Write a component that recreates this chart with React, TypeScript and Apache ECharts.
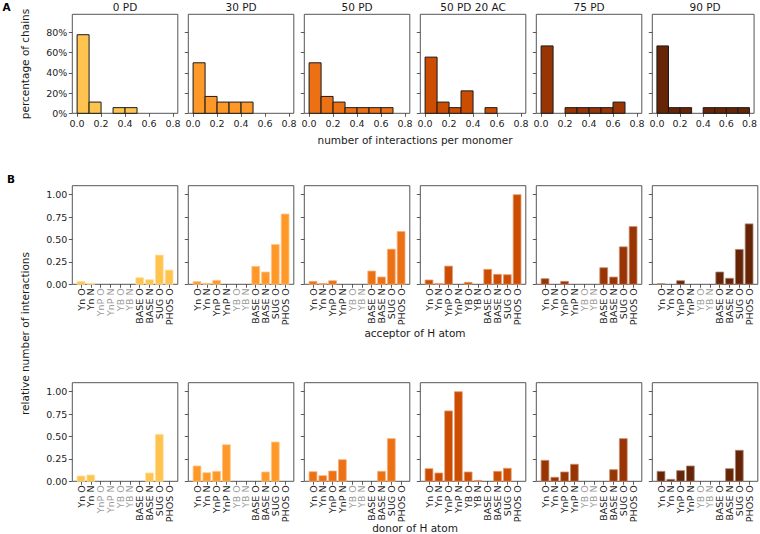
import React, { useEffect, useRef } from "react";
import * as echarts from "echarts";

// ---------- DATA ----------
const panelTitles = ["0 PD", "30 PD", "50 PD", "50 PD 20 AC", "75 PD", "90 PD"];
const panelColors = ["#fec44f", "#fe9929", "#ec7014", "#cc4c02", "#993404", "#662506"];

// histogram (A): bin edges and percentage of chains per bin
const binEdges = [0, 0.1, 0.2, 0.3, 0.4, 0.5, 0.6, 0.7, 0.8];
const pct0PD = [77.8, 11.1, 0, 5.6, 5.6, 0, 0, 0];
const pct30PD = [50.0, 16.7, 11.1, 11.1, 11.1, 0, 0, 0];
const pct50PD = [50.0, 16.7, 11.1, 5.6, 5.6, 5.6, 5.6, 0];
const pct50PD20AC = [55.6, 11.1, 5.6, 22.2, 0, 5.6, 0, 0];
const pct75PD = [66.7, 0, 5.6, 5.6, 5.6, 5.6, 11.1, 0];
const pct90PD = [66.7, 5.6, 5.6, 0, 5.6, 5.6, 5.6, 5.6];
const histTicks = [0, 0.2, 0.4, 0.6, 0.8];
const pctTicks = [0, 20, 40, 60, 80];

// B: atom categories
const atomCats = ["Yn O", "Yn N", "YnP O", "YnP N", "YB O", "YB N", "BASE O", "BASE N", "SUG O", "PHOS O"];
const relTicks = [0, 0.25, 0.5, 0.75, 1.0];

// acceptor of H atom
const acc0PD = [0.033, 0.01, 0, 0, 0, 0, 0.073, 0.051, 0.326, 0.159];
const acc30PD = [0.03, 0.01, 0.044, 0, 0, 0, 0.2, 0.137, 0.444, 0.784];
const acc50PD = [0.033, 0.01, 0.04, 0, 0, 0, 0.148, 0.081, 0.392, 0.589];
const acc50PD20AC = [0.048, 0.005, 0.203, 0, 0.022, 0, 0.167, 0.111, 0.107, 1.0];
const acc75PD = [0.063, 0, 0.033, 0, 0, 0, 0.185, 0.081, 0.418, 0.644];
const acc90PD = [0.005, 0, 0.04, 0, 0, 0, 0.137, 0.067, 0.389, 0.674];

// donor of H atom
const don0PD = [0.059, 0.07, 0, 0, 0, 0, 0, 0.093, 0.524, 0];
const don30PD = [0.171, 0.096, 0.111, 0.408, 0, 0, 0, 0.104, 0.438, 0];
const don50PD = [0.107, 0.063, 0.115, 0.241, 0, 0, 0, 0.111, 0.476, 0];
const don50PD20AC = [0.141, 0.093, 0.785, 1.0, 0.104, 0.01, 0, 0.111, 0.145, 0];
const don75PD = [0.234, 0.045, 0.104, 0.19, 0, 0, 0, 0.13, 0.476, 0];
const don90PD = [0.111, 0.022, 0.119, 0.171, 0, 0, 0, 0.141, 0.346, 0];

// categories not present in a system (grey labels)
const absent0PD = ["YnP O", "YnP N", "YB O", "YB N"];
const absent30PD = ["YB O", "YB N"];
const absent50PD = ["YB O", "YB N"];
const absent50PD20AC: string[] = [];
const absent75PD = ["YB O", "YB N"];
const absent90PD = ["YB O", "YB N"];

const histAll = [pct0PD, pct30PD, pct50PD, pct50PD20AC, pct75PD, pct90PD];
const accAll = [acc0PD, acc30PD, acc50PD, acc50PD20AC, acc75PD, acc90PD];
const donAll = [don0PD, don30PD, don50PD, don50PD20AC, don75PD, don90PD];
const absentAll = [absent0PD, absent30PD, absent50PD, absent50PD20AC, absent75PD, absent90PD];

// ---------- LAYOUT ----------
const FONT = "DejaVu Sans";
const colLeft = (i: number) => 72.3 + i * 116;
const colW = 105.5;
const rowTop = [14.3, 185.7, 382.7];
const rowH = [99, 98.6, 98.6];

function lighten(hex: string, t: number) {
  const n = parseInt(hex.slice(1), 16);
  const r = (n >> 16) & 255, g = (n >> 8) & 255, b = n & 255;
  const m = (c: number) => Math.round(c + (255 - c) * t);
  return `rgb(${m(r)},${m(g)},${m(b)})`;
}

export default function App() {
  const ref = useRef<HTMLDivElement>(null);
  useEffect(() => {
    document.body.style.margin = "0";
    const chart = echarts.init(ref.current!, undefined, { renderer: "svg" });

    const grid: any[] = [];
    const xAxis: any[] = [];
    const yAxis: any[] = [];
    const series: any[] = [];
    const tickStyle = { show: true, length: 3.5, inside: false, lineStyle: { color: "#333", width: 0.8 } };
    const noLine = { show: false, onZero: false };
    const catIdx = atomCats.map((_, k) => k);
    const evenIdx = catIdx.filter((k) => k % 2 === 0);
    const oddIdx = catIdx.filter((k) => k % 2 === 1);

    for (let r = 0; r < 3; r++) {
      for (let c = 0; c < 6; c++) {
        const gi = r * 6 + c;
        grid.push({
          left: colLeft(c), top: rowTop[r], width: colW, height: rowH[r],
          show: true, borderColor: "#555", borderWidth: 1, backgroundColor: "transparent",
          containLabel: false,
        });
        if (r === 0) {
          const xi = xAxis.length;
          xAxis.push({
            gridIndex: gi, type: "value", min: -0.04, max: 0.84, position: "bottom",
            axisLine: noLine, splitLine: { show: false },
            axisTick: { ...tickStyle, customValues: histTicks },
            axisLabel: {
              customValues: histTicks, formatter: (v: number) => v.toFixed(1),
              showMinLabel: true, showMaxLabel: true,
              fontSize: 9.5, fontFamily: FONT, color: "#222", margin: 5,
            },
          });
          yAxis.push({
            gridIndex: gi, type: "value", min: 0, max: 98, position: "left",
            axisLine: noLine, splitLine: { show: false },
            axisTick: { ...tickStyle, customValues: pctTicks },
            axisLabel: {
              show: c === 0, customValues: pctTicks, formatter: (v: number) => `${v}%`,
              showMinLabel: true, showMaxLabel: true,
              fontSize: 9.5, fontFamily: FONT, color: "#222", margin: 5,
            },
          });
          const vals = histAll[c];
          const color = panelColors[c];
          series.push({
            type: "custom", xAxisIndex: xi, yAxisIndex: gi,
            data: vals.map((v, k) => [binEdges[k], binEdges[k + 1], v]),
            encode: { x: [0, 1], y: 2 },
            renderItem: (params: any, api: any) => {
              const y = api.value(2);
              if (!y) return null;
              const p0 = api.coord([api.value(0), y]);
              const p1 = api.coord([api.value(1), 0]);
              return {
                type: "rect",
                shape: { x: p0[0], y: p0[1], width: p1[0] - p0[0], height: p1[1] - p0[1] },
                style: { fill: color, stroke: "#1a1a1a", lineWidth: 1 },
              };
            },
          });
        } else {
          const absent = absentAll[c];
          const labelCommon = {
            showMinLabel: true, showMaxLabel: true, hideOverlap: false,
            rotate: 90, margin: 4,
            fontSize: 9.5, fontFamily: FONT,
            formatter: (v: number) => atomCats[Math.round(v)],
            color: (v: any) => {
              const name = atomCats[Math.round(Number(v))];
              return absent.includes(name) ? "#9a9a9a" : "#222";
            },
          };
          const xi = xAxis.length;
          // main axis: all ticks, even-indexed labels
          xAxis.push({
            gridIndex: gi, type: "value", min: -0.89, max: 9.89, position: "bottom",
            axisLine: noLine, splitLine: { show: false },
            axisTick: { ...tickStyle, customValues: catIdx },
            axisLabel: { ...labelCommon, customValues: evenIdx },
          });
          // companion axis: odd-indexed labels
          xAxis.push({
            gridIndex: gi, type: "value", min: -0.89, max: 9.89, position: "bottom", offset: 0,
            axisLine: noLine, splitLine: { show: false },
            axisTick: { show: false },
            axisLabel: { ...labelCommon, customValues: oddIdx },
          });
          yAxis.push({
            gridIndex: gi, type: "value", min: 0, max: 1.1, position: "left",
            axisLine: noLine, splitLine: { show: false },
            axisTick: { ...tickStyle, customValues: relTicks },
            axisLabel: {
              show: c === 0, customValues: relTicks, formatter: (v: number) => v.toFixed(2),
              showMinLabel: true, showMaxLabel: true,
              fontSize: 9.5, fontFamily: FONT, color: "#222", margin: 5,
            },
          });
          const vals = r === 1 ? accAll[c] : donAll[c];
          const color = panelColors[c];
          const edge = lighten(color, 0.45);
          series.push({
            type: "custom", xAxisIndex: xi, yAxisIndex: gi,
            data: vals.map((v, k) => [k, v]),
            encode: { x: 0, y: 1 },
            renderItem: (params: any, api: any) => {
              const x = api.value(0), y = api.value(1);
              if (!y) return null;
              const p0 = api.coord([x - 0.4, y]);
              const p1 = api.coord([x + 0.4, 0]);
              return {
                type: "rect",
                shape: { x: p0[0], y: p0[1], width: p1[0] - p0[0], height: p1[1] - p0[1] },
                style: { fill: color, stroke: edge, lineWidth: 0.8 },
              };
            },
          });
        }
      }
    }

    const txt = (text: string, x: number, y: number, extra: any = {}, rotation = 0) => ({
      type: "text", x, y, rotation,
      style: {
        text, x: 0, y: 0, align: "center", verticalAlign: "middle",
        fontFamily: FONT, fontSize: 10, fill: "#1a1a1a", ...extra,
      },
    });

    const graphic: any[] = [];
    panelTitles.forEach((t, c) => graphic.push(txt(t, colLeft(c) + colW / 2, 7, { fontSize: 10.5 })));
    graphic.push(txt("A", 6.5, 6.8, { fontSize: 10.5, fontWeight: "bold", fill: "#000" }));
    graphic.push(txt("B", 11, 178.7, { fontSize: 10.5, fontWeight: "bold", fill: "#000" }));
    graphic.push(txt("percentage of chains", 24.5, 64, { fontSize: 10.5 }, Math.PI / 2));
    graphic.push(txt("number of interactions per monomer", 415, 140, { fontSize: 10.5 }));
    graphic.push(txt("acceptor of H atom", 415, 332.5, { fontSize: 10.5 }));
    graphic.push(txt("donor of H atom", 415, 528, { fontSize: 10.5 }));
    graphic.push(txt("relative number of interactions", 24.5, 333.5, { fontSize: 10.5 }, Math.PI / 2));

    chart.setOption({
      animation: false,
      backgroundColor: "#fff",
      grid, xAxis, yAxis, series, graphic,
    });
    return () => chart.dispose();
  }, []);
  return <div ref={ref} style={{ width: 760, height: 534 }} />;
}
